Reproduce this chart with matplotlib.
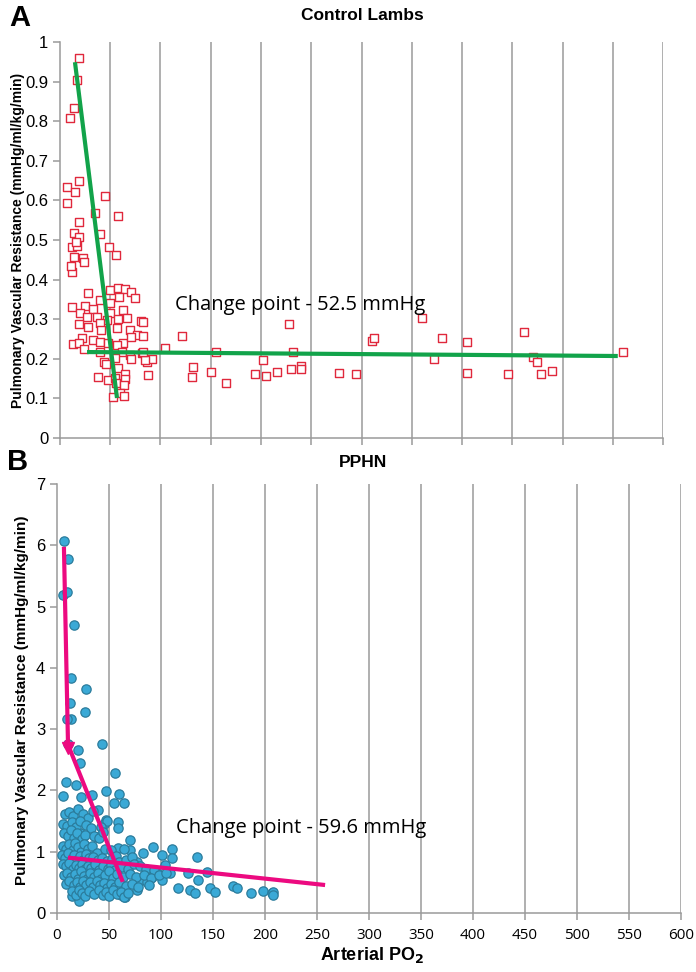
import numpy as np
import matplotlib
matplotlib.use('Agg')
import matplotlib.pyplot as plt

# ---- Control lambs (panel A): arterial PO2 vs PVR
ctrl_po2 = [18.9, 16.9, 13.9, 10.0, 7.0, 14.9, 18.9, 7.0, 44.8, 34.8, 57.7, 18.9, 39.8, 13.9,
            18.9, 11.9, 16.9, 15.9, 48.8, 55.7, 13.9, 22.9, 23.9, 11.9, 10.9, 49.8, 57.7, 64.7,
            70.6, 74.6, 27.9, 39.8, 11.9, 24.9, 32.8, 49.8, 58.7, 62.7, 19.9, 36.8, 49.8, 26.9,
            46.8, 57.7, 66.7, 80.6, 18.9, 27.9, 39.8, 56.7, 40.8, 69.7, 76.6, 21.9, 12.9, 18.9,
            23.9, 32.8, 39.8, 47.8, 62.7, 70.6, 82.6, 39.8, 56.7, 61.7, 69.7, 81.6, 86.6, 91.5,
            70.6, 43.8, 45.8, 54.7, 57.7, 37.8, 47.8, 54.7, 64.7, 64.7, 87.6, 55.7, 63.7, 59.7,
            52.7, 63.7, 121.4, 104.5, 132.3, 131.3, 150.2, 155.2, 165.2, 194.0, 202.0, 205.0,
            215.9, 227.9, 231.8, 229.9, 239.8, 239.8, 277.6, 294.5, 310.4, 312.4, 360.2, 372.1,
            380.1, 405.0, 405.0, 445.8, 461.7, 470.6, 474.6, 478.6, 489.6, 560.2, 82.6, 84.6, 82.6]
ctrl_pvr = [0.960, 0.904, 0.833, 0.808, 0.634, 0.621, 0.649, 0.593, 0.611, 0.568, 0.561, 0.545,
            0.515, 0.518, 0.508, 0.482, 0.485, 0.495, 0.482, 0.462, 0.457, 0.455, 0.444, 0.419,
            0.434, 0.374, 0.379, 0.376, 0.369, 0.354, 0.366, 0.348, 0.331, 0.333, 0.326, 0.341,
            0.356, 0.323, 0.316, 0.306, 0.316, 0.306, 0.298, 0.301, 0.303, 0.295, 0.288, 0.280,
            0.290, 0.278, 0.273, 0.273, 0.260, 0.253, 0.237, 0.240, 0.225, 0.247, 0.242, 0.240,
            0.240, 0.255, 0.258, 0.217, 0.235, 0.217, 0.210, 0.215, 0.192, 0.199, 0.199, 0.192,
            0.187, 0.202, 0.177, 0.154, 0.146, 0.152, 0.162, 0.149, 0.159, 0.139, 0.134, 0.114,
            0.104, 0.106, 0.258, 0.227, 0.179, 0.154, 0.167, 0.217, 0.139, 0.162, 0.197, 0.157,
            0.167, 0.288, 0.217, 0.174, 0.182, 0.174, 0.164, 0.162, 0.245, 0.253, 0.303, 0.199,
            0.253, 0.242, 0.164, 0.162, 0.268, 0.205, 0.192, 0.162, 0.169, 0.217, 0.293, 0.197,
            0.217]
# change point fit segments (start, end)
ctrl_fit1_x = [14.9, 56.7]
ctrl_fit1_y = [0.949, 0.101]
ctrl_fit2_x = [26.9, 555.0]
ctrl_fit2_y = [0.217, 0.207]

# ---- PPHN lambs (panel B)
pphn_po2 = [6.7, 10.6, 5.8, 9.6, 16.3, 13.5, 27.9, 12.5, 13.5, 9.6, 26.9, 10.6, 43.3, 20.2,
            22.1, 55.8, 8.7, 5.8, 18.3, 47.1, 59.6, 54.8, 64.4, 23.1, 33.7, 39.4, 12.5, 47.1,
            58.7, 58.7, 25.0, 38.5, 22.1, 70.2, 58.7, 70.2, 92.3, 82.7, 110.6, 100.9, 110.6,
            134.6, 76.9, 103.8, 96.2, 91.3, 101.0, 108.7, 79.8, 86.5, 76.9, 116.3, 127.9, 132.7,
            126.0, 135.6, 144.2, 147.1, 151.9, 169.2, 173.1, 186.5, 198.1, 206.7, 207.7, 207.7,
            14.4, 21.2, 61.5, 65.4, 58.7,
            8, 12, 15, 20, 25, 30, 35, 45, 48,
            6, 10, 14, 18, 22, 28, 33, 42,
            7, 11, 13, 16, 19, 24, 27, 36, 40, 44,
            6, 9, 12, 15, 17, 20, 23, 26, 30, 34, 38, 46, 52, 64,
            5, 8, 11, 14, 16, 19, 22, 25, 28, 31, 35, 39, 43, 48, 53, 57, 60, 66, 72,
            6, 9, 12, 15, 18, 21, 24, 27, 30, 33, 37, 40, 44, 49, 52, 56, 62, 68, 74, 80, 86, 93,
            7, 10, 13, 17, 20, 23, 26, 29, 32, 36, 39, 42, 46, 50, 54, 58, 63, 70, 76, 84, 90,
            98, 105,
            9, 12, 16, 19, 22, 25, 28, 32, 35, 38, 41, 45, 48, 52, 56, 60, 66, 72, 78, 88,
            14, 18, 21, 24, 27, 31, 36, 40, 44, 47, 50, 54, 58, 62, 64, 68]
pphn_pvr = [6.07, 5.78, 5.19, 5.24, 4.70, 3.83, 3.65, 3.43, 3.16, 3.16, 3.28, 2.76, 2.76, 2.66,
            2.45, 2.28, 2.14, 1.91, 2.09, 1.99, 1.94, 1.79, 1.79, 1.89, 1.93, 1.68, 1.63, 1.52,
            1.48, 1.38, 1.55, 1.24, 1.30, 1.19, 1.06, 1.03, 1.08, 0.98, 1.04, 0.95, 0.90, 0.91,
            0.83, 0.78, 0.65, 0.59, 0.54, 0.65, 0.54, 0.51, 0.38, 0.41, 0.38, 0.33, 0.65, 0.54,
            0.67, 0.41, 0.34, 0.44, 0.41, 0.33, 0.36, 0.33, 0.34, 0.29, 0.28, 0.20, 0.29, 0.26,
            0.38,
            1.62, 1.65, 1.58, 1.70, 1.62, 1.55, 1.66, 1.45, 1.50,
            1.45, 1.42, 1.48, 1.40, 1.50, 1.44, 1.38, 1.40,
            1.30, 1.25, 1.35, 1.22, 1.30, 1.20, 1.28, 1.25, 1.22, 1.32,
            1.10, 1.05, 1.12, 1.02, 1.15, 1.08, 1.00, 1.12, 1.05, 1.10, 0.98, 1.05, 1.02, 1.05,
            0.95, 0.90, 0.98, 0.88, 0.95, 0.86, 0.93, 0.87, 0.96, 0.89, 0.92, 0.86, 0.90, 0.85,
            0.88, 0.93, 0.84, 0.87, 0.92,
            0.80, 0.76, 0.82, 0.72, 0.78, 0.74, 0.80, 0.71, 0.77, 0.73, 0.80, 0.70, 0.76, 0.72,
            0.79, 0.70, 0.75, 0.72, 0.80, 0.76, 0.72, 0.70,
            0.62, 0.66, 0.58, 0.64, 0.56, 0.68, 0.60, 0.55, 0.65, 0.58, 0.66, 0.55, 0.62, 0.68,
            0.57, 0.63, 0.59, 0.64, 0.58, 0.62, 0.57, 0.62, 0.66,
            0.48, 0.52, 0.45, 0.50, 0.42, 0.53, 0.46, 0.50, 0.42, 0.52, 0.45, 0.49, 0.41, 0.47,
            0.43, 0.50, 0.44, 0.48, 0.42, 0.46,
            0.36, 0.30, 0.38, 0.33, 0.27, 0.36, 0.31, 0.38, 0.29, 0.34, 0.27, 0.37, 0.31, 0.34,
            0.26, 0.33]
pphn_fit1_x = [6.7, 10.6]
pphn_fit1_y = [5.94, 2.74]
pphn_fit2_x = [9.6, 62.5]
pphn_fit2_y = [2.79, 0.54]
pphn_fit3_x = [12.5, 255.8]
pphn_fit3_y = [0.90, 0.46]

xticks = np.arange(0, 601, 50)
GRID = '#9a9a9a'
fig = plt.figure(figsize=(6.96, 9.72), dpi=100)


def style_axes(ax, ymax, ystep, fmt):
    ax.set_xlim(0, 600)
    ax.set_ylim(0, ymax)
    ax.set_xticks(xticks)
    ax.set_yticks(np.arange(0, ymax + ystep / 2, ystep))
    ax.set_yticklabels([fmt(v) for v in np.arange(0, ymax + ystep / 2, ystep)],
                       fontsize=12, family='Liberation Sans')
    for x in xticks[1:]:
        ax.axvline(x, color=GRID, lw=1.1, zorder=0)
    for s in ['top', 'right']:
        ax.spines[s].set_visible(False)
    for s in ['left', 'bottom']:
        ax.spines[s].set_color(GRID)
        ax.spines[s].set_linewidth(1.1)
    ax.tick_params(axis='both', color=GRID, length=5, width=1.1)


# panel A
ax1 = fig.add_axes([0.0862, 0.5494, 0.8664, 0.4074])
style_axes(ax1, 1.0, 0.1, lambda v: '0' if v < 1e-9 else ('1' if abs(v - 1) < 1e-9 else '%.1f' % v))
ax1.set_xticklabels([])
ax1.scatter(ctrl_po2, ctrl_pvr, marker='s', s=40, facecolors='white', edgecolors='#e0283c',
            linewidths=1.0, zorder=3)
ax1.plot(ctrl_fit1_x, ctrl_fit1_y, color='#12a34a', lw=3, zorder=4, solid_capstyle='butt')
ax1.plot(ctrl_fit2_x, ctrl_fit2_y, color='#12a34a', lw=3, zorder=4, solid_capstyle='butt')
ax1.text(114, 0.336, 'Change point - 52.5 mmHg', fontsize=14.5, family='Open Sans',
         va='center', ha='left', zorder=5)

# panel B
ax2 = fig.add_axes([0.0819, 0.0607, 0.8965, 0.4414])
style_axes(ax2, 7, 1, lambda v: '%d' % v)
ax2.set_xticklabels([str(v) for v in xticks], fontsize=11, family='Open Sans')
ax2.tick_params(axis='x', pad=6)
ax2.scatter(pphn_po2, pphn_pvr, marker='o', s=45, facecolors='#3aa9d6', edgecolors='#2b7c9c',
            linewidths=0.9, zorder=3)
ax2.plot(pphn_fit1_x, pphn_fit1_y, color='#ec0a80', lw=3, zorder=4)
ax2.plot(pphn_fit2_x, pphn_fit2_y, color='#ec0a80', lw=3, zorder=4)
ax2.plot(pphn_fit3_x, pphn_fit3_y, color='#ec0a80', lw=3, zorder=4)
ax2.plot([pphn_fit1_x[1]], [pphn_fit1_y[1] - 0.05], marker='v', ms=8, color='#ec0a80', zorder=4)
ax2.text(114.4, 1.39, 'Change point - 59.6 mmHg', fontsize=14.5, family='Open Sans',
         va='center', ha='left', zorder=5)

# labels
ylab = 'Pulmonary Vascular Resistance (mmHg/ml/kg/min)'
fig.text(18 / 696, 1 - 240 / 972, ylab, rotation=90, ha='center', va='center',
         fontsize=10, fontweight='bold', family='Liberation Sans')
fig.text(22 / 696, 1 - 700 / 972, ylab, rotation=90, ha='center', va='center',
         fontsize=11, fontweight='bold', family='Liberation Sans')
fig.text(362 / 696, 1 - 15 / 972, 'Control Lambs', ha='center', va='center',
         fontsize=12.5, fontweight='bold', family='Liberation Sans')
fig.text(363 / 696, 1 - 462 / 972, 'PPHN', ha='center', va='center',
         fontsize=12.5, fontweight='bold', family='Liberation Sans')
fig.text(20 / 696, 1 - 18 / 972, 'A', ha='center', va='center',
         fontsize=21, fontweight='bold', family='Liberation Sans')
fig.text(18 / 696, 1 - 462 / 972, 'B', ha='center', va='center',
         fontsize=21, fontweight='bold', family='Liberation Sans')
fig.text(372 / 696, 1 - 955 / 972, r'Arterial PO$_\mathbf{2}$', ha='center', va='center',
         fontsize=13, fontweight='bold', family='Liberation Sans')

fig.savefig('out.png', dpi=100)
